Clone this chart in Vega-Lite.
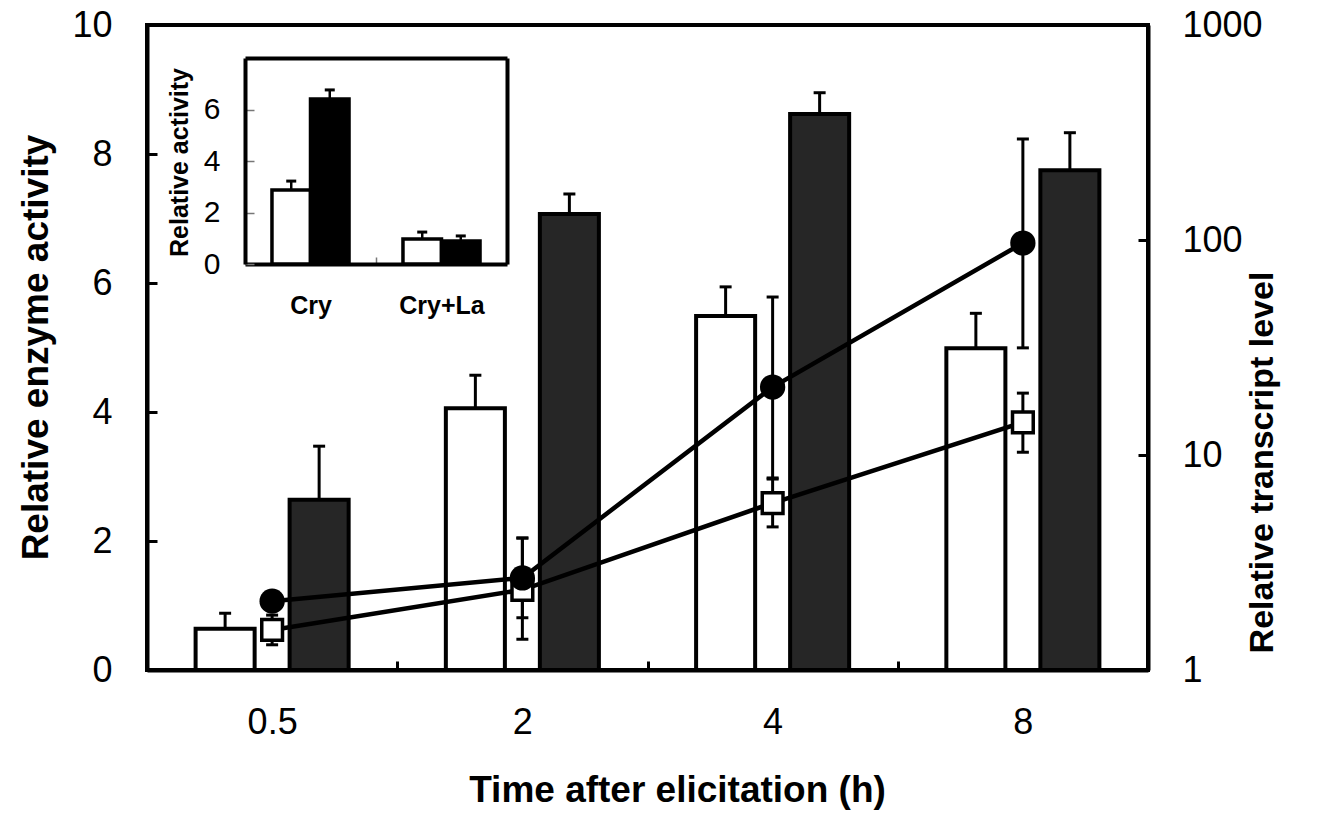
{
  "$schema": "https://vega.github.io/schema/vega-lite/v6.json",
  "width": 1001,
  "height": 645,
  "autosize": "none",
  "padding": {"left": 147, "top": 25, "right": 179, "bottom": 151},
  "background": "white",
  "config": {
    "font": "Liberation Sans",
    "view": {"stroke": "black", "strokeWidth": 4},
    "axis": {
      "grid": false,
      "domainColor": "black",
      "domainWidth": 4,
      "tickColor": "black",
      "tickWidth": 3,
      "labelColor": "black",
      "titleColor": "black",
      "labelFont": "Liberation Sans",
      "titleFont": "Liberation Sans",
      "labelFontSize": 36,
      "titleFontSize": 37,
      "titleFontWeight": "bold"
    }
  },
  "datasets": {
    "bars": [
      {"time": "0.5", "s": "w", "v": 0.64, "up": 0.88},
      {"time": "0.5", "s": "b", "v": 2.64, "up": 3.47},
      {"time": "2", "s": "w", "v": 4.06, "up": 4.57},
      {"time": "2", "s": "b", "v": 7.07, "up": 7.38},
      {"time": "4", "s": "w", "v": 5.49, "up": 5.94},
      {"time": "4", "s": "b", "v": 8.62, "up": 8.95},
      {"time": "8", "s": "w", "v": 4.99, "up": 5.53},
      {"time": "8", "s": "b", "v": 7.75, "up": 8.33}
    ],
    "tx": [
      {"time": "0.5", "g": "circle", "m": 2.09, "lo": 1.93, "hi": 2.27},
      {"time": "2", "g": "circle", "m": 2.68, "lo": 1.75, "hi": 4.11},
      {"time": "4", "g": "circle", "m": 20.7, "lo": 7.82, "hi": 54.3},
      {"time": "8", "g": "circle", "m": 96.8, "lo": 31.5, "hi": 295},
      {"time": "0.5", "g": "square", "m": 1.535, "lo": 1.31, "hi": 1.8},
      {"time": "2", "g": "square", "m": 2.36, "lo": 1.39, "hi": 4.11},
      {"time": "4", "g": "square", "m": 5.98, "lo": 4.63, "hi": 7.73},
      {"time": "8", "g": "square", "m": 14.2, "lo": 10.3, "hi": 19.4}
    ],
    "inset": [
      {"trt": "Cry", "s": "w", "v": 2.87, "up": 3.22},
      {"trt": "Cry", "s": "b", "v": 6.41, "up": 6.76},
      {"trt": "Cry+La", "s": "w", "v": 0.97, "up": 1.24},
      {"trt": "Cry+La", "s": "b", "v": 0.89, "up": 1.09}
    ]
  },
  "layer": [
    {
      "data": {"name": "bars"},
      "encoding": {
        "x": {
          "field": "time", "type": "nominal",
          "scale": {"domain": ["0.5", "2", "4", "8"], "paddingInner": 0, "paddingOuter": 0},
          "axis": {
            "title": "Time after elicitation (h)",
            "labelAngle": 0,
            "tickBand": "extent",
            "tickSize": -9,
            "tickWidth": 3,
            "labelPadding": 44,
            "titleX": 530,
            "titleY": 131,
            "titleAlign": "center",
            "titleBaseline": "alphabetic"
          }
        },
        "xOffset": {
          "field": "s", "type": "nominal",
          "scale": {"domain": ["w", "b"], "paddingInner": 0.372, "paddingOuter": 0.517}
        }
      },
      "layer": [
        {
          "mark": {"type": "rule", "color": "black", "strokeWidth": 3},
          "encoding": {
            "y": {"field": "v", "type": "quantitative", "scale": {"domain": [0, 10]}, "axis": null},
            "y2": {"field": "up"}
          }
        },
        {
          "mark": {"type": "tick", "orient": "horizontal", "color": "black", "size": 12, "thickness": 3, "opacity": 1},
          "encoding": {
            "y": {"field": "up", "type": "quantitative", "scale": {"domain": [0, 10]}, "axis": null}
          }
        },
        {
          "mark": {"type": "bar", "stroke": "black", "strokeWidth": 4},
          "encoding": {
            "y": {
              "field": "v", "type": "quantitative", "scale": {"domain": [0, 10]},
              "axis": {
                "orient": "left",
                "title": "Relative enzyme activity",
                "values": [0, 2, 4, 6, 8, 10],
                "tickSize": -10,
                "labelPadding": 45,
                "titleAngle": 270,
                "titleX": -100,
                "titleY": 322,
                "titleAlign": "center",
                "titleBaseline": "alphabetic"
              }
            },
            "fill": {
              "field": "s", "type": "nominal",
              "scale": {"domain": ["w", "b"], "range": ["white", "#262626"]},
              "legend": null
            }
          }
        }
      ],
      "resolve": {"axis": {"y": "independent"}}
    },
    {
      "data": {"name": "tx"},
      "encoding": {
        "x": {
          "field": "time", "type": "nominal",
          "scale": {"domain": ["0.5", "2", "4", "8"], "paddingInner": 0, "paddingOuter": 0},
          "axis": null
        }
      },
      "layer": [
        {
          "mark": {"type": "rule", "color": "black", "strokeWidth": 3},
          "encoding": {
            "y": {
              "field": "lo", "type": "quantitative",
              "scale": {"type": "log", "domain": [1, 1000]},
              "axis": {
                "orient": "right",
                "title": "Relative transcript level",
                "values": [1, 10, 100, 1000],
                "format": "d",
                "tickSize": -10,
                "labelPadding": 44,
                "titleFontSize": 34,
                "titleAngle": 270,
                "titleX": 124,
                "titleY": 437,
                "titleAlign": "center",
                "titleBaseline": "alphabetic"
              }
            },
            "y2": {"field": "hi"}
          }
        },
        {
          "mark": {"type": "tick", "orient": "horizontal", "color": "black", "size": 12, "thickness": 3, "opacity": 1},
          "encoding": {
            "y": {"field": "lo", "type": "quantitative", "scale": {"type": "log", "domain": [1, 1000]}, "axis": null}
          }
        },
        {
          "mark": {"type": "tick", "orient": "horizontal", "color": "black", "size": 12, "thickness": 3, "opacity": 1},
          "encoding": {
            "y": {"field": "hi", "type": "quantitative", "scale": {"type": "log", "domain": [1, 1000]}, "axis": null}
          }
        },
        {
          "mark": {"type": "line", "color": "black", "strokeWidth": 4.5},
          "encoding": {
            "y": {"field": "m", "type": "quantitative", "scale": {"type": "log", "domain": [1, 1000]}, "axis": null},
            "detail": {"field": "g", "type": "nominal"}
          }
        },
        {
          "transform": [{"filter": "datum.g === 'square'"}],
          "mark": {"type": "square", "filled": true, "fill": "white", "stroke": "black", "strokeWidth": 3.5, "size": 430, "opacity": 1},
          "encoding": {
            "y": {"field": "m", "type": "quantitative", "scale": {"type": "log", "domain": [1, 1000]}, "axis": null}
          }
        },
        {
          "transform": [{"filter": "datum.g === 'circle'"}],
          "mark": {"type": "circle", "filled": true, "color": "black", "size": 640, "opacity": 1},
          "encoding": {
            "y": {"field": "m", "type": "quantitative", "scale": {"type": "log", "domain": [1, 1000]}, "axis": null}
          }
        }
      ],
      "resolve": {"axis": {"y": "independent"}}
    },
    {
      "data": {"name": "inset"},
      "encoding": {
        "xOffset": {
          "field": "s", "type": "nominal",
          "scale": {"domain": ["w", "b"], "paddingInner": 0, "paddingOuter": 0.7}
        }
      },
      "layer": [
        {
          "mark": {"type": "rule", "color": "black", "strokeWidth": 2.5},
          "encoding": {
            "x": {
              "field": "trt", "type": "nominal",
              "scale": {"domain": ["Cry", "Cry+La"], "range": [98, 360], "paddingInner": 0, "paddingOuter": 0},
              "axis": {"orient": "top", "offset": -33, "labels": false, "ticks": false, "title": null}
            },
            "y": {
              "field": "v", "type": "quantitative",
              "scale": {"domain": [0, 8], "range": [239, 33]},
              "axis": {"orient": "right", "offset": -641, "labels": false, "ticks": false, "title": null}
            },
            "y2": {"field": "up"}
          }
        },
        {
          "mark": {"type": "tick", "orient": "horizontal", "color": "black", "size": 10, "thickness": 3, "opacity": 1},
          "encoding": {
            "x": {
              "field": "trt", "type": "nominal",
              "scale": {"domain": ["Cry", "Cry+La"], "range": [98, 360], "paddingInner": 0, "paddingOuter": 0},
              "axis": null
            },
            "y": {
              "field": "up", "type": "quantitative",
              "scale": {"domain": [0, 8], "range": [239, 33]},
              "axis": null
            }
          }
        },
        {
          "mark": {"type": "bar", "stroke": "black", "strokeWidth": 3.5},
          "encoding": {
            "x": {
              "field": "trt", "type": "nominal",
              "scale": {"domain": ["Cry", "Cry+La"], "range": [98, 360], "paddingInner": 0, "paddingOuter": 0},
              "axis": {
                "orient": "bottom",
                "offset": -406,
                "title": null,
                "labelAngle": 0,
                "tickBand": "extent",
                "tickSize": -7,
                "tickWidth": 1.5,
                "tickColor": "#777777",
                "labelFontSize": 25,
                "labelFontWeight": "bold",
                "labelPadding": 36
              }
            },
            "y": {
              "field": "v", "type": "quantitative",
              "scale": {"domain": [0, 8], "range": [239, 33]},
              "axis": {
                "orient": "left",
                "offset": -98,
                "title": "Relative activity",
                "values": [0, 2, 4, 6],
                "tickSize": -9,
                "tickWidth": 1.5,
                "tickColor": "#777777",
                "labelFontSize": 30,
                "labelPadding": 34,
                "titleFontSize": 25,
                "titleAngle": 270,
                "titleX": -58,
                "titleY": 137,
                "titleAlign": "center",
                "titleBaseline": "alphabetic"
              }
            },
            "fill": {
              "field": "s", "type": "nominal",
              "scale": {"domain": ["w", "b"], "range": ["white", "black"]},
              "legend": null
            }
          }
        }
      ],
      "resolve": {"axis": {"x": "independent", "y": "independent"}}
    }
  ],
  "resolve": {
    "scale": {"x": "independent", "y": "independent", "xOffset": "independent", "fill": "independent"},
    "axis": {"x": "independent", "y": "independent"}
  }
}
